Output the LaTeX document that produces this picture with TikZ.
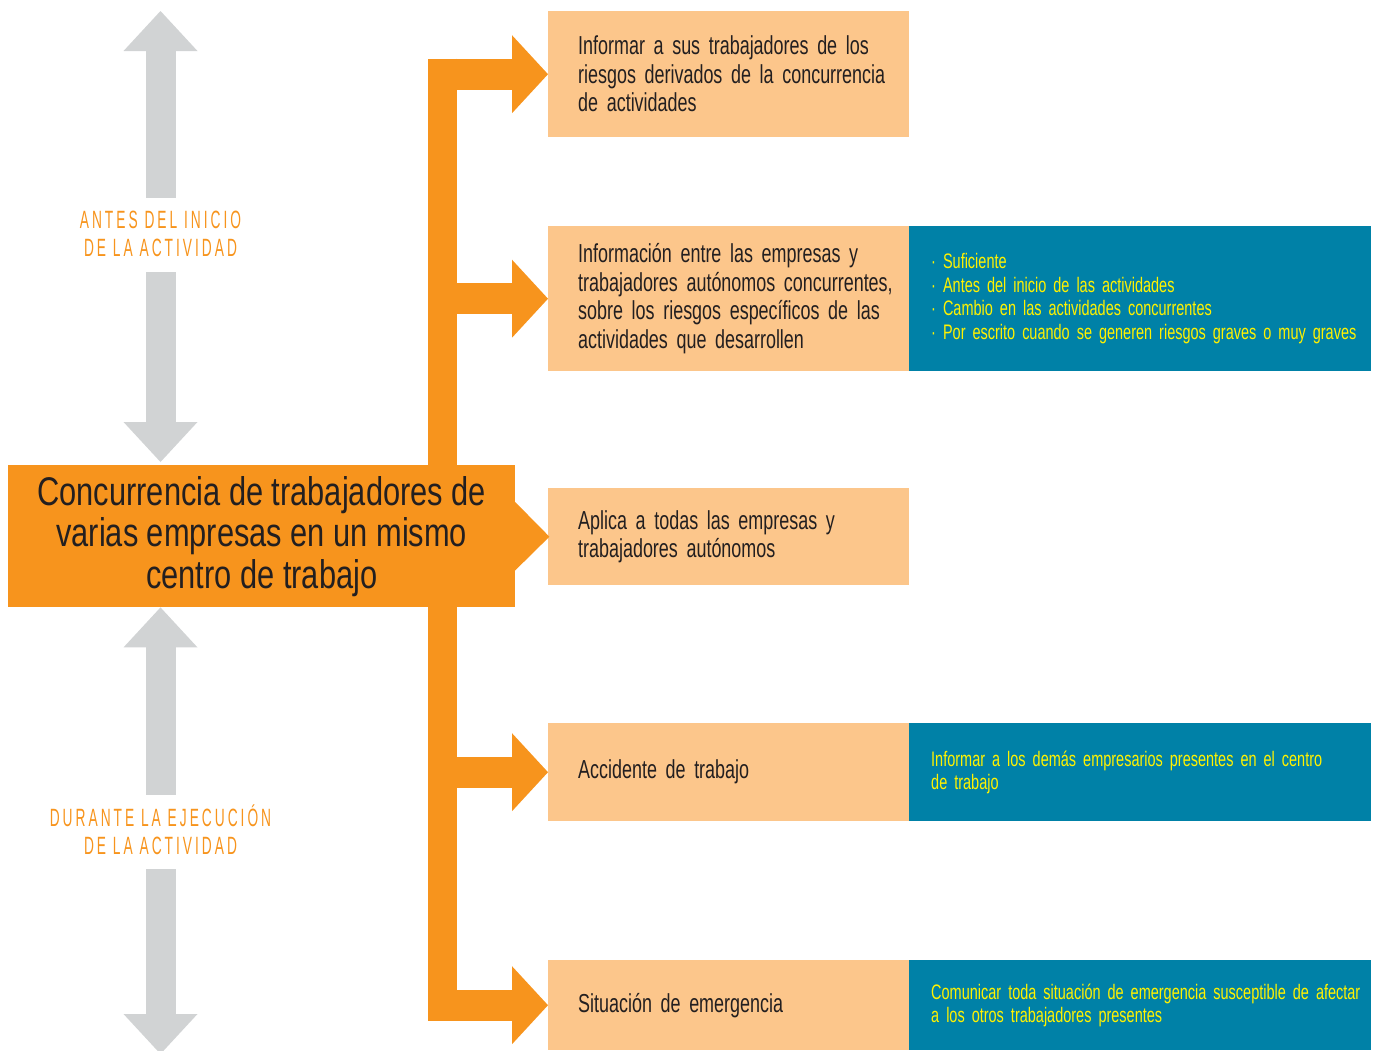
\documentclass[tikz,border=0pt]{standalone}
\usepackage{fontspec}
\setmainfont{Liberation Sans}
\newfontfamily\cmain[FakeStretch=0.77]{Liberation Sans}
\newfontfamily\cbox[FakeStretch=0.69]{Liberation Sans}
\newfontfamily\cblue[FakeStretch=0.69]{Liberation Sans}
\newfontfamily\clab[FakeStretch=0.55,LetterSpace=12]{Liberation Sans}
\usetikzlibrary{arrows.meta,calc}
\definecolor{ora}{HTML}{F7941D}
\definecolor{lor}{HTML}{FCC68B}
\definecolor{blu}{HTML}{0081A7}
\definecolor{gry}{HTML}{D1D3D4}
\definecolor{yel}{HTML}{FFF200}
\definecolor{txt}{HTML}{231F20}
\newcommand\padl{\leftskip=30pt\relax}
\newcommand\padb{\leftskip=22pt\relax}
\begin{document}
\begin{tikzpicture}[x=1pt,y=-1pt,
  lbox/.style={fill=lor, anchor=north west, inner xsep=0pt, inner ysep=0pt,
    text width=361pt, minimum width=361pt, align=left, text=txt,
    font=\cbox\fontsize{26}{28.5}\selectfont},
  bbox/.style={fill=blu, anchor=north west, inner xsep=0pt, inner ysep=0pt,
    text width=462pt, minimum width=462pt, align=left, text=yel,
    font=\cblue\fontsize{21}{23.5}\selectfont},
  mainbox/.style={fill=ora, anchor=north west, inner sep=0pt,
    minimum width=507pt, minimum height=142pt, align=center, text=txt,
    font=\cmain\fontsize{40}{41.5}\selectfont},
  lab/.style={text=ora, align=center, inner xsep=2pt, inner ysep=10pt,
    font=\clab\fontsize{25}{28}\selectfont},
  trunk/.style={draw=ora, line width=29pt, line cap=butt},
  branch/.style={draw=ora, line width=31pt, line cap=butt,
    -{Triangle[width=78pt,length=36pt,line width=0pt,fill=ora]}},
  garrow/.style={draw=gry, line width=30pt, line cap=butt,
    -{Triangle[width=74pt,length=40pt,line width=0pt,fill=gry]}}
]
\useasboundingbox (0,0) rectangle (1374,1050);

% boxes
\node[lbox, minimum height=126pt] (b1) at (548,11)
  {\padl Informar a sus trabajadores de los\\riesgos derivados de la concurrencia\\de actividades\par};
\node[lbox, minimum height=145pt] (b2) at (548,226)
  {\padl Información entre las empresas y\\trabajadores autónomos concurrentes,\\sobre los riesgos específicos de las\\actividades que desarrollen\par};
\node[lbox, minimum height=97pt] (b3) at (548,488)
  {\padl Aplica a todas las empresas y\\trabajadores autónomos\par};
\node[lbox, minimum height=98pt] (b4) at (548,723)
  {\padl Accidente de trabajo\par};
\node[lbox, minimum height=90pt] (b5) at (548,960)
  {\padl Situación de emergencia\par};

\node[bbox, minimum height=145pt] (d2) at (909,226)
  {\padb · Suficiente\\· Antes del inicio de las actividades\\· Cambio en las actividades concurrentes\\· Por escrito cuando se generen riesgos graves o muy graves\par};
\node[bbox, minimum height=98pt] (d4) at (909,723)
  {\padb Informar a los demás empresarios presentes en el centro\\de trabajo\par};
\node[bbox, minimum height=90pt] (d5) at (909,960)
  {\padb Comunicar toda situación de emergencia susceptible de afectar\\a los otros trabajadores presentes\par};

% orange trunk and branches
\coordinate (tx) at (442.5,0);
\draw[trunk] ($(tx |- b1.west)+(0,-15.5)$) -- ($(tx |- b5.west)+(0,15.5)$);
\draw[branch] ($(tx |- b1.west)+(-14.5,0)$) -- (b1.west);
\draw[branch] ($(tx |- b2.west)+(-14.5,0)$) -- (b2.west);
\draw[branch] ($(tx |- b4.west)+(-14.5,0)$) -- (b4.west);
\draw[branch] ($(tx |- b5.west)+(-14.5,0)$) -- (b5.west);

% central box with pointer to b3
\node[mainbox] (c) at (8,465)
  {Concurrencia de trabajadores de\\varias empresas en un mismo\\centro de trabajo};
\fill[ora] ($(c.east)+(-1,-35)$) -- ($(c.east |- b3.west)+(34,0)$) -- ($(c.east)+(-1,35)$) -- cycle;

% grey time arrows
\node[lab] (antes) at (160.5,234) {ANTES DEL INICIO\\DE LA ACTIVIDAD};
\node[lab] (durante) at (160.5,830) {DURANTE LA EJECUCIÓN\\DE LA ACTIVIDAD};
\coordinate (gtop) at (160.5,11);
\coordinate (gbot) at (160.5,1054);
\draw[garrow] ($(antes.north)+(0,-3)$) -- (gtop);
\draw[garrow] ($(antes.south)+(0,5)$) -- ($(antes |- c.north)+(0,-3)$);
\draw[garrow] (durante.north) -- (durante |- c.south);
\draw[garrow] ($(durante.south)+(0,4)$) -- (gbot);
\end{tikzpicture}
\end{document}
